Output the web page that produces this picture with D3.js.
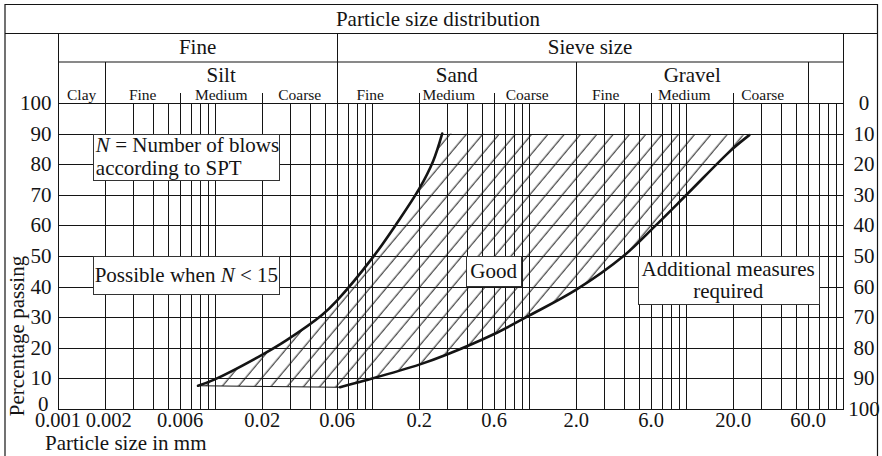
<!DOCTYPE html>
<html>
<head>
<meta charset="utf-8">
<script src="https://cdn.jsdelivr.net/npm/d3@7/dist/d3.min.js"></script>
<style>
  html, body { margin: 0; padding: 0; background: #fff; }
  svg { display: block; font-family: "Liberation Serif", "Times New Roman", serif; }
</style>
</head>
<body>
<div id="chart"></div>
<script>
// Grain size classes (mm)
const mainGroups = ["Fine", "Sieve size"];
const mainBounds = [[0.001, 0.06], [0.06, 100]];
const soilTypes = ["Silt", "Sand", "Gravel"];
const soilBounds = [[0.002, 0.06], [0.06, 2], [2, 60]];
const subClasses = ["Clay", "Fine", "Medium", "Coarse", "Fine", "Medium", "Coarse", "Fine", "Medium", "Coarse"];
const subBounds = [[0.001, 0.002], [0.002, 0.006], [0.006, 0.02], [0.02, 0.06], [0.06, 0.2],
                   [0.2, 0.6], [0.6, 2], [2, 6], [6, 20], [20, 60]];

// Axis ticks
const sizeTicks = [0.001, 0.002, 0.006, 0.02, 0.06, 0.2, 0.6, 2, 6, 20, 60];
const sizeTickLabels = ["0.001", "0.002", "0.006", "0.02", "0.06", "0.2", "0.6", "2.0", "6.0", "20.0", "60.0"];
const passingTicks = [0, 10, 20, 30, 40, 50, 60, 70, 80, 90, 100];
const retainedLabels = ["100", "90", "80", "70", "60", "50", "40", "30", "20", "10", "0"];

// Limit curves of the "Good" band (size in mm, percentage passing)
const fineLimitSize = [0.0078, 0.0098, 0.0198, 0.0286, 0.048, 0.06, 0.102, 0.144, 0.2, 0.245, 0.28];
const fineLimitPassing = [7.6, 9.5, 17.6, 22.5, 30.7, 35.5, 49.8, 60.7, 72, 81, 90];
const coarseLimitSize = [0.0625, 0.09, 0.2, 0.3, 0.6, 1.0, 2.0, 4.0, 6.3, 10.3, 19.4, 25.3];
const coarseLimitPassing = [7.1, 9.3, 14.5, 17.8, 24.5, 30.5, 39, 50, 59.6, 70.5, 84.6, 89.5];

// Text boxes (size range in mm, passing range in %); italic parts are marked with *
const notes = [
  { x0: 0.00168, x1: 0.0257, y0: 90, y1: 75, align: "start", lines: [["*N", " = Number of blows"], ["according to SPT"]] },
  { x0: 0.00168, x1: 0.0257, y0: 50, y1: 37.6, align: "middle", lines: [["Possible when ", "*N", " < 15"]] },
  { x0: 0.398, x1: 0.892, y0: 50, y1: 40.2, align: "middle", lines: [["Good"]] },
  { x0: 4.92, x1: 70, y0: 50, y1: 34.3, align: "middle", lines: [["Additional measures"], ["required"]] }
];

function createChart() {
    const width = 882;
    const height = 456;
    const frameLeft = 5, frameRight = 877.5, frameTop = 4.5;
    const titleBottom = 33.5, groupBottom = 62, subTickTop = 93;
    const ink = "#141414";

    const x = d3.scaleLog().domain([0.001, 100]).range([58, 843]);
    const y = d3.scaleLinear().domain([0, 100]).range([409, 103]);
    const px = v => Math.round(x(v)) + 0.5;
    const py = v => Math.round(y(v)) + 0.5;
    const same = (a, b) => Math.abs(Math.log10(a) - Math.log10(b)) < 1e-6;

    const svg = d3.create("svg")
        .attr("width", width)
        .attr("height", height)
        .attr("viewBox", [0, 0, width, height]);

    svg.append("rect").attr("width", width).attr("height", height).attr("fill", "#fff");

    // hatch pattern for the good band
    svg.append("defs").append("pattern")
        .attr("id", "hatch")
        .attr("patternUnits", "userSpaceOnUse")
        .attr("width", 12.5).attr("height", 12.5)
        .attr("patternTransform", "rotate(40)")
        .append("line")
        .attr("x1", 6).attr("x2", 6).attr("y1", -1).attr("y2", 13.5)
        .attr("stroke", ink).attr("stroke-width", 1);

    // vertical grid lines, some of them run up into the header
    const mainEdges = mainBounds.flat();
    const soilEdges = soilBounds.flat();
    const subEdges = subBounds.flat();
    const lineTop = v => {
        if (mainEdges.some(e => same(e, v))) return titleBottom;
        if (soilEdges.some(e => same(e, v))) return groupBottom;
        if (subEdges.some(e => same(e, v))) return subTickTop;
        return y(100);
    };

    svg.append("g")
        .attr("stroke", ink)
        .attr("stroke-width", 1)
        .attr("shape-rendering", "crispEdges")
        .selectAll("line")
        .data(x.ticks())
        .join("line")
        .attr("x1", d => px(d)).attr("x2", d => px(d))
        .attr("y1", d => lineTop(d))
        .attr("y2", y(0));

    // horizontal grid lines
    svg.append("g")
        .attr("stroke", ink)
        .attr("stroke-width", 1)
        .attr("shape-rendering", "crispEdges")
        .selectAll("line")
        .data(passingTicks)
        .join("line")
        .attr("x1", x(0.001)).attr("x2", x(100) + 0.5)
        .attr("y1", d => py(d)).attr("y2", d => py(d));

    // hatched band between the two limit curves
    const line = d3.line()
        .x(d => x(d[0]))
        .y(d => y(d[1]))
        .curve(d3.curveCatmullRom.alpha(0.5));
    const finePts = d3.zip(fineLimitSize, fineLimitPassing);
    const coarsePts = d3.zip(coarseLimitSize, coarseLimitPassing);
    const bandPath = line(finePts) + line(coarsePts.slice().reverse()).replace(/^M/, "L") + "Z";

    svg.append("path")
        .attr("d", bandPath)
        .attr("fill", "url(#hatch)")
        .attr("stroke", "none");

    // thin bottom edge of the band
    svg.append("line")
        .attr("x1", x(fineLimitSize[0])).attr("y1", y(fineLimitPassing[0]))
        .attr("x2", x(coarseLimitSize[0])).attr("y2", y(coarseLimitPassing[0]))
        .attr("stroke", ink).attr("stroke-width", 1);

    // the two limit curves
    svg.append("g")
        .attr("fill", "none")
        .attr("stroke", ink)
        .attr("stroke-width", 2.6)
        .attr("stroke-linecap", "round")
        .selectAll("path")
        .data([finePts, coarsePts])
        .join("path")
        .attr("d", line);

    // text boxes
    const note = svg.append("g")
        .selectAll("g")
        .data(notes)
        .join("g");

    note.append("rect")
        .attr("x", d => Math.round(x(d.x0)) + 0.5)
        .attr("y", d => Math.round(y(d.y0)) + 0.5)
        .attr("width", d => Math.round(x(d.x1) - x(d.x0)))
        .attr("height", d => Math.round(y(d.y1) - y(d.y0)))
        .attr("fill", "#fff")
        .attr("stroke", "#333")
        .attr("stroke-width", 1);

    note.each(function(d) {
        const g = d3.select(this);
        const n = d.lines.length;
        const lineGap = 22.5;
        const mid = (y(d.y0) + y(d.y1)) / 2;
        d.lines.forEach((parts, i) => {
            const t = g.append("text")
                .attr("x", d.align === "start" ? x(d.x0) + 2.5 : (x(d.x0) + x(d.x1)) / 2)
                .attr("y", mid + 7 + (i - (n - 1) / 2) * lineGap)
                .attr("text-anchor", d.align)
                .attr("font-size", 21)
                .attr("fill", ink);
            parts.forEach(p => {
                const italic = p.startsWith("*");
                t.append("tspan")
                    .attr("font-style", italic ? "italic" : "normal")
                    .text(italic ? p.slice(1) : p);
            });
        });
    });

    // header frame
    const frame = svg.append("g")
        .attr("stroke", ink)
        .attr("stroke-width", 1.2)
        .attr("fill", "none");
    frame.append("path")
        .attr("d", `M${frameLeft},${height + 2}V${frameTop}H${frameRight}V${height + 2}`);
    frame.append("line")
        .attr("x1", frameLeft).attr("x2", frameRight)
        .attr("y1", titleBottom).attr("y2", titleBottom);
    frame.append("line")
        .attr("x1", x(0.001)).attr("x2", x(100) + 0.5)
        .attr("y1", groupBottom).attr("y2", groupBottom);

    const centre = b => x(Math.sqrt(b[0] * b[1]));

    svg.append("text")
        .attr("x", 438).attr("y", 26)
        .attr("text-anchor", "middle")
        .attr("font-size", 21).attr("fill", ink)
        .text("Particle size distribution");

    svg.append("g")
        .attr("font-size", 21).attr("fill", ink).attr("text-anchor", "middle")
        .selectAll("text")
        .data(mainGroups)
        .join("text")
        .attr("x", (d, i) => (x(mainBounds[i][0]) + x(mainBounds[i][1])) / 2)
        .attr("y", 53.5)
        .text(d => d);

    svg.append("g")
        .attr("font-size", 21).attr("fill", ink).attr("text-anchor", "middle")
        .selectAll("text")
        .data(soilTypes)
        .join("text")
        .attr("x", (d, i) => centre(soilBounds[i]))
        .attr("y", 82)
        .text(d => d);

    // sand and gravel sub-labels sit a little left of their class centre
    svg.append("g")
        .attr("font-size", 15.5).attr("fill", ink).attr("text-anchor", "middle")
        .selectAll("text")
        .data(subClasses)
        .join("text")
        .attr("x", (d, i) => centre(subBounds[i]) - (i >= 4 ? 8 : 0))
        .attr("y", 99.5)
        .text(d => d);

    // left axis: percentage passing
    svg.append("g")
        .attr("font-size", 21).attr("fill", ink).attr("text-anchor", "end")
        .selectAll("text")
        .data(passingTicks)
        .join("text")
        .attr("x", d => d === 0 ? 48.5 : 51.5)
        .attr("y", d => y(d) + (d === 0 ? 1.5 : 7))
        .text(d => d);

    // right axis: percentage retained
    svg.append("g")
        .attr("font-size", 21).attr("fill", ink).attr("text-anchor", "middle")
        .selectAll("text")
        .data(retainedLabels)
        .join("text")
        .attr("x", 864)
        .attr("y", (d, i) => y(passingTicks[i]) + 7)
        .text(d => d);

    // bottom axis: particle size
    svg.append("g")
        .attr("font-size", 20.5).attr("fill", ink).attr("text-anchor", "middle")
        .selectAll("text")
        .data(sizeTicks)
        .join("text")
        .attr("x", d => x(d))
        .attr("dx", (d, i) => i === 1 ? 3.5 : 0)
        .attr("y", 426.5)
        .text((d, i) => sizeTickLabels[i]);

    svg.append("text")
        .attr("x", 45).attr("y", 449.5)
        .attr("font-size", 21).attr("fill", ink)
        .text("Particle size in mm");

    svg.append("text")
        .attr("transform", "translate(24,336) rotate(-90)")
        .attr("text-anchor", "middle")
        .attr("font-size", 21).attr("fill", ink)
        .text("Percentage passing");

    document.getElementById("chart").appendChild(svg.node());
}

createChart();
</script>
</body>
</html>
